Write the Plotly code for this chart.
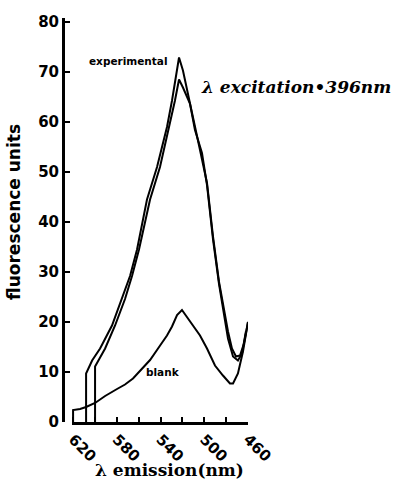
import plotly.graph_objects as go

# Emission wavelength (nm) and fluorescence values
exp1_nm = [608.1, 608.1, 602.6, 595.3, 584.4, 575.2, 567.9, 561.5, 552.4, 543.2, 534.1, 529.5,
           524.9, 523.1, 519.5, 515.8, 510.3, 503.9, 497.5, 492.0, 486.5, 478.3, 474.7,
           471.0, 467.3, 463.7, 460.0]
exp1_val = [0, 9.7, 12.3, 14.7, 19.3, 24.6, 29.2, 34.5, 44.5, 51.0, 59.0, 64.3,
            70.9, 72.9, 70.3, 66.3, 60.9, 54.4, 47.8, 37.1, 28.0, 18.1, 14.7,
            13.1, 13.3, 15.7, 20.0]

exp2_nm = [599.9, 599.9, 590.7, 581.6, 572.5, 566.1, 559.7, 549.6, 540.5, 533.2, 526.8,
           523.1, 519.5, 513.1, 508.5, 502.1, 497.5, 492.0, 486.5, 478.3, 473.7, 469.2,
           465.5, 461.9]
exp2_val = [0, 11.1, 14.7, 19.3, 24.6, 29.2, 34.5, 44.5, 51.0, 57.8, 64.3,
            68.5, 66.9, 63.7, 58.4, 53.8, 47.4, 36.5, 27.6, 16.7, 13.1, 12.3,
            13.7, 18.1]

blank_nm = [620.0, 620.0, 613.6, 608.1, 599.9, 590.7, 579.8, 572.5, 565.2, 556.9, 549.6,
            542.3, 534.1, 529.5, 524.9, 520.4, 515.8, 510.3, 503.9, 497.5, 490.2, 482.9,
            476.5, 473.7, 469.2, 464.6, 460.0]
blank_val = [0, 2.4, 2.6, 3.0, 3.8, 5.2, 6.6, 7.5, 8.7, 10.7, 12.4,
             14.7, 17.3, 19.1, 21.4, 22.4, 21.0, 19.3, 17.3, 14.7, 11.3, 9.3,
             7.7, 7.7, 9.7, 14.1, 20.0]

x_major = [620, 580, 540, 500, 460]
x_minor = [600, 560, 520, 480]
y_ticks = [0, 10, 20, 30, 40, 50, 60, 70, 80]

line_style = dict(color="black", width=2)
fig = go.Figure()
for xs, ys in [(exp1_nm, exp1_val), (exp2_nm, exp2_val), (blank_nm, blank_val)]:
    fig.add_trace(go.Scatter(x=xs, y=ys, mode="lines", line=line_style,
                             showlegend=False, hoverinfo="skip"))

tick_font = dict(family="DejaVu Sans", size=15, color="black", weight="bold")

fig.update_layout(
    width=400, height=486,
    margin=dict(l=63, r=152, t=18, b=64),
    paper_bgcolor="white", plot_bgcolor="white",
    xaxis=dict(domain=[0.0486, 1], range=[621, 460], showgrid=False, zeroline=False,
               showline=True, linecolor="black", linewidth=2.5,
               tickmode="array", tickvals=x_major, ticks="inside", ticklen=5,
               tickwidth=2, tickcolor="black", tickangle=45, tickfont=tick_font,
               minor=dict(tickvals=x_minor, ticks="inside", ticklen=5, tickwidth=2,
                          tickcolor="black")),
    yaxis=dict(anchor="free", position=0, range=[0, 80.8], showgrid=False, zeroline=False,
               showline=True, linecolor="black", linewidth=3,
               tickmode="array", tickvals=y_ticks, ticks="inside", ticklen=5,
               tickwidth=2, tickcolor="black", tickfont=tick_font),
)

fig.add_annotation(x=531.5, y=72.2, xref="x", yref="y", text="experimental",
                   showarrow=False, xanchor="right", yanchor="middle",
                   font=dict(family="DejaVu Sans", size=10.5, color="black", weight="bold"))
fig.add_annotation(x=555.0, y=10.0, xref="x", yref="y", text="blank",
                   showarrow=False, xanchor="left", yanchor="middle",
                   font=dict(family="DejaVu Sans", size=10.5, color="black", weight="bold"))
fig.add_annotation(x=504.5, y=67.0, xref="x", yref="y", text="λ excitation•396nm",
                   showarrow=False, xanchor="left", yanchor="middle",
                   font=dict(family="DejaVu Serif", size=17, color="black",
                             weight="bold", style="italic"))
fig.add_annotation(x=-0.265, y=0.52, xref="paper", yref="paper", text="fluorescence units",
                   showarrow=False, textangle=-90, xanchor="center", yanchor="middle",
                   font=dict(family="DejaVu Sans", size=17, color="black", weight="bold"))
fig.add_annotation(x=0.578, y=-0.118, xref="paper", yref="paper", text="λ emission(nm)",
                   showarrow=False, xanchor="center", yanchor="middle",
                   font=dict(family="DejaVu Serif", size=17, color="black", weight="bold"))

fig.write_html("out.html", config={"displayModeBar": False},
               post_script="document.body.style.margin='0';")
